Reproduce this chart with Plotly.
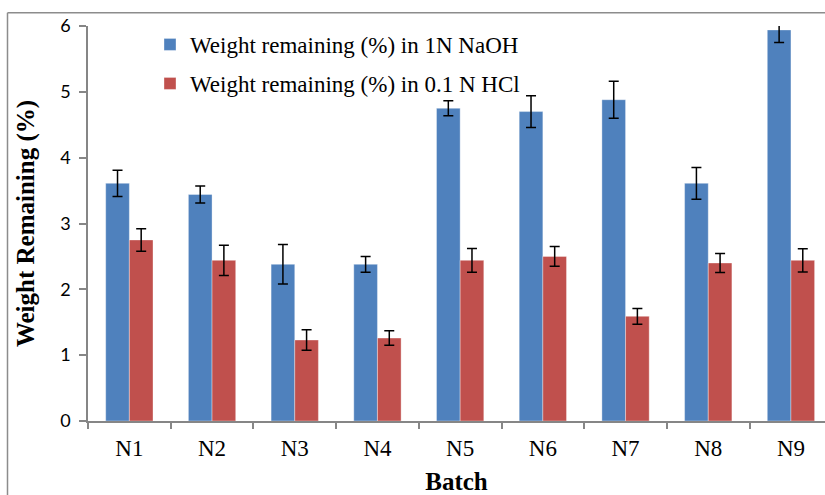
import plotly.graph_objects as go

# Batches and measured weight remaining (%) with standard deviations
batches = ["N1", "N2", "N3", "N4", "N5", "N6", "N7", "N8", "N9"]
naoh_values = [3.61, 3.44, 2.38, 2.38, 4.75, 4.70, 4.88, 3.61, 5.94]
naoh_errors = [0.20, 0.13, 0.30, 0.12, 0.115, 0.24, 0.28, 0.24, 0.19]
hcl_values = [2.75, 2.44, 1.23, 1.26, 2.44, 2.50, 1.59, 2.40, 2.44]
hcl_errors = [0.17, 0.23, 0.155, 0.11, 0.18, 0.15, 0.12, 0.145, 0.175]

series_names = [
    "Weight remaining (%) in 1N NaOH",
    "Weight remaining (%) in 0.1 N HCl",
]

W, H = 825, 495
ML, MR, MT, MB = 88, 0, 26, 74
plot_w = W - ML - MR
plot_h = H - MT - MB
cat_px = 82.7  # pixel width of one batch slot

serif = "Liberation Serif, Times New Roman, serif"
axis_grey = "#868686"

fig = go.Figure()
fig.add_trace(go.Bar(
    x=batches, y=naoh_values, name=series_names[0],
    marker=dict(color="#4F81BD", line=dict(color="rgba(255,255,255,0.35)", width=1)),
    error_y=dict(type="data", array=naoh_errors, color="black", thickness=1.5, width=5),
    legend="legend",
))
fig.add_trace(go.Bar(
    x=batches, y=hcl_values, name=series_names[1],
    marker=dict(color="#C0504D", line=dict(color="rgba(255,255,255,0.35)", width=1)),
    error_y=dict(type="data", array=hcl_errors, color="black", thickness=1.5, width=5),
    legend="legend2",
))

def px_to_paper_x(px):
    return (px - ML) / plot_w

def px_to_paper_y(py):
    return (H - MB - py) / plot_h

legend_common = dict(
    xanchor="left", yanchor="middle",
    font=dict(family=serif, size=23, color="black"),
    bgcolor="rgba(0,0,0,0)", borderwidth=0,
)

fig.update_layout(
    width=W, height=H,
    margin=dict(l=ML, r=MR, t=MT, b=MB),
    paper_bgcolor="white", plot_bgcolor="white",
    barmode="group", bargap=0.428, bargroupgap=0,
    showlegend=True,
    legend=dict(x=px_to_paper_x(150), y=px_to_paper_y(44.5), **legend_common),
    legend2=dict(x=px_to_paper_x(150), y=px_to_paper_y(83.5), **legend_common),
    xaxis=dict(
        range=[-0.5, -0.5 + plot_w / cat_px],
        showline=True, linecolor=axis_grey, linewidth=1.5,
        ticks="outside", tickson="boundaries", ticklen=6, tickcolor=axis_grey, tickwidth=1.5,
        tickfont=dict(family=serif, size=23, color="black"),
        ticklabelstandoff=6,
        showgrid=False, zeroline=False,
        title=dict(text="<b>Batch</b>", font=dict(family=serif, size=25, color="black"), standoff=14),
    ),
    yaxis=dict(
        range=[0, 6], dtick=1,
        showline=True, linecolor=axis_grey, linewidth=1.5,
        ticks="outside", ticklen=7, tickcolor=axis_grey, tickwidth=1.5,
        tickfont=dict(family="Lato, Liberation Sans, sans-serif", size=18, color="black"),
        ticklabelstandoff=5,
        showgrid=False, zeroline=False,
        title=dict(text="<b>Weight Remaining (%)</b>", font=dict(family=serif, size=25, color="black"), standoff=18),
    ),
    shapes=[
        # outer chart frame (left and top edges)
        dict(type="line", xref="paper", yref="paper",
             x0=px_to_paper_x(7.5), x1=px_to_paper_x(7.5),
             y0=px_to_paper_y(12.7), y1=px_to_paper_y(500),
             line=dict(color="#8c8c8c", width=1.5)),
        dict(type="line", xref="paper", yref="paper",
             x0=px_to_paper_x(7.5), x1=px_to_paper_x(830),
             y0=px_to_paper_y(12.7), y1=px_to_paper_y(12.7),
             line=dict(color="#8c8c8c", width=1.5)),
    ],
)

fig.write_html("out.html")
